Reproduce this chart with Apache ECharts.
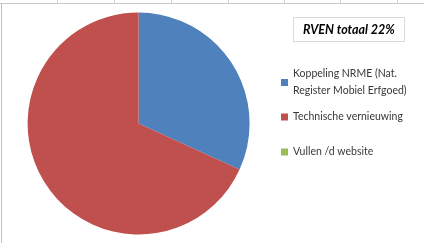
<!DOCTYPE html>
<html>
<head>
<meta charset="utf-8">
<script src="https://cdn.jsdelivr.net/npm/echarts@6/dist/echarts.min.js"></script>
<style>html,body{margin:0;padding:0;background:#fff}#c{width:424px;height:243px}</style>
</head>
<body>
<div id="c"></div>
<script>
const titleText = 'RVEN totaal 22%';
const categories = ['Koppeling NRME (Nat. Register Mobiel Erfgoed)', 'Technische vernieuwing', 'Vullen /d website'];
const legendLabels = ['Koppeling NRME (Nat.\nRegister Mobiel Erfgoed)', 'Technische vernieuwing', 'Vullen /d website'];
const values = [7, 15, 0];
const colors = ['#4F81BD', '#C0504D', '#9BBB59'];

const chart = echarts.init(document.getElementById('c'), null, {renderer: 'canvas'});
const font = 'Lato';
const legendCenters = [82.5, 117, 152];
const legends = categories.map((name, i) => ({
  data: [name],
  orient: 'vertical',
  left: 281,
  top: (i === 0 ? legendCenters[i] - 25.5 : legendCenters[i] - 8.5),
  padding: 0,
  itemWidth: 7,
  itemHeight: 7,
  icon: 'rect',
  selectedMode: false,
  formatter: () => legendLabels[i],
  textStyle: {
    fontFamily: font, fontSize: 10.5, color: '#383838', lineHeight: 17,
    padding: i === 0 ? [17, 0, 0, 0] : 0
  }
}));

const gridX = [57, 114, 171, 228, 284, 340, 397];
const graphics = [
  {type: 'line', shape: {x1: 0, y1: 3.5, x2: 424, y2: 3.5}, style: {stroke: '#c8c8c8', lineWidth: 1}, silent: true},
  {type: 'line', shape: {x1: 1.5, y1: 3, x2: 1.5, y2: 243}, style: {stroke: '#c0c0c0', lineWidth: 1}, silent: true}
].concat(gridX.map(x => ({type: 'line', shape: {x1: x + 0.5, y1: 0, x2: x + 0.5, y2: 3}, style: {stroke: '#d4d4d4', lineWidth: 1}, silent: true})));

chart.setOption({
  animation: false,
  color: colors,
  title: {
    text: titleText,
    left: 293, top: 17,
    padding: [6, 10],
    borderColor: '#d9d9d9', borderWidth: 1,
    textStyle: {fontFamily: font, fontSize: 12.5, fontWeight: 'bold', fontStyle: 'italic', color: '#000', lineHeight: 13}
  },
  legend: legends,
  graphic: graphics,
  series: [{
    type: 'pie',
    center: [138.6, 123.5],
    radius: [0, 111],
    startAngle: 90,
    clockwise: true,
    label: {show: false},
    labelLine: {show: false},
    emphasis: {disabled: true},
    itemStyle: {borderWidth: 0},
    data: categories.map((n, i) => ({name: n, value: values[i]}))
  }]
});
</script>
</body>
</html>
